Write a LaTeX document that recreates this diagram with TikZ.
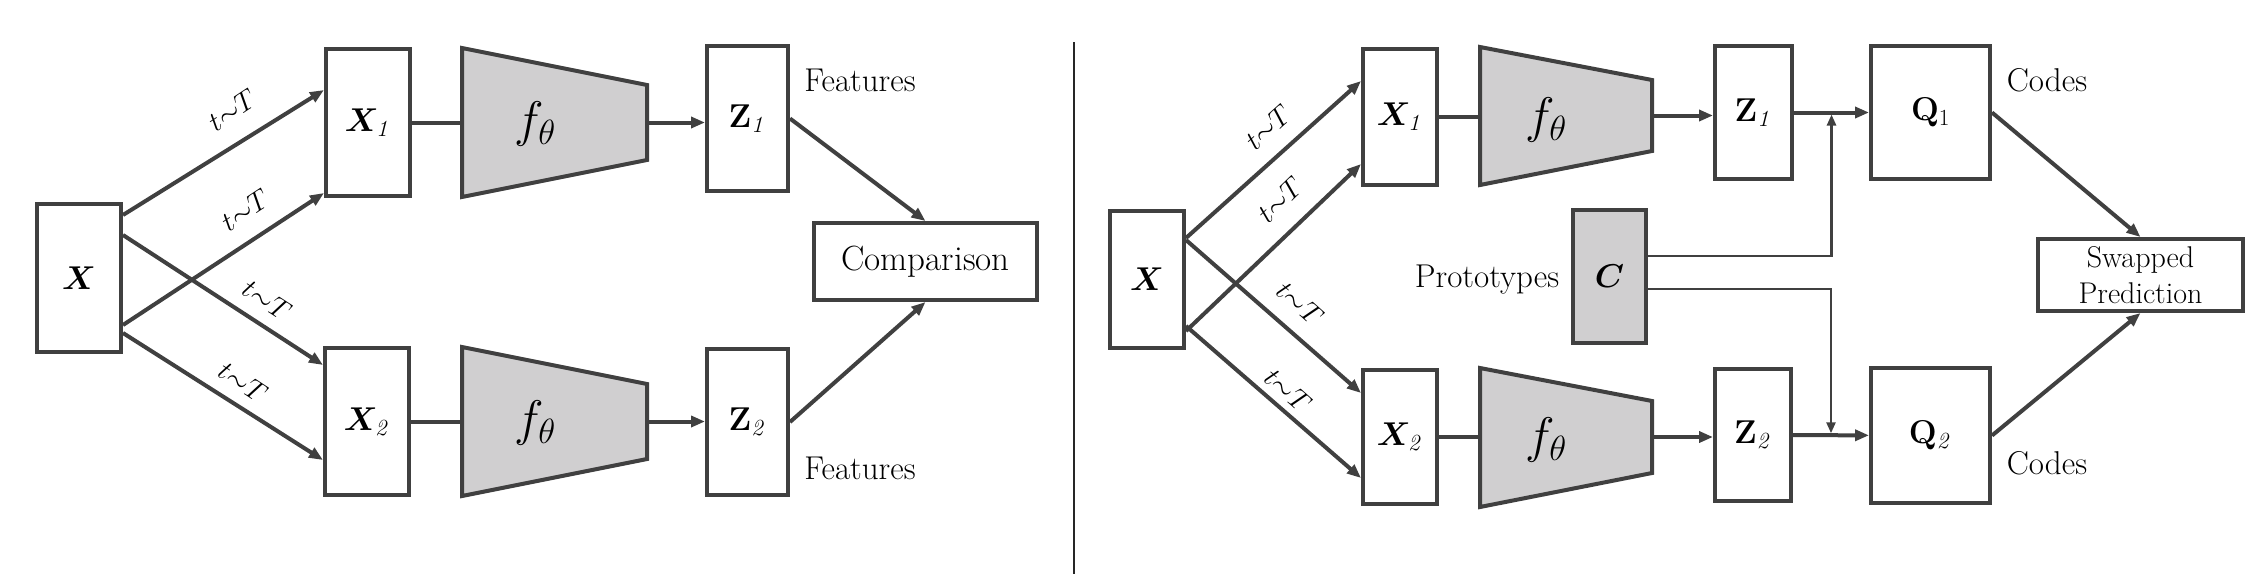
\RequirePackage{fix-cm}
\documentclass[tikz,border=0pt]{standalone}
\usepackage{bm}
\usetikzlibrary{arrows.meta,calc}

\definecolor{linegray}{RGB}{64,64,64}
\definecolor{encgray}{RGB}{208,207,208}

\tikzset{every picture/.style={line width=4pt}}

\begin{document}
\begin{tikzpicture}[x=1pt,y=1pt,yscale=-1,xscale=1,
	box/.style={draw=linegray,line width=4pt,fill=white,inner sep=0pt,font=\fontsize{33}{40}\selectfont},
	enc/.style={draw=linegray,line width=4pt,fill=encgray,line join=miter},
	con/.style={draw=linegray,line width=4pt},
	arr/.style={con,-{Triangle[length=14pt,width=11pt]}},
	carr/.style={draw=linegray,line width=2.5pt,-{Triangle[length=11pt,width=9pt]}},
	lbl/.style={font=\fontsize{33}{40}\selectfont},
	ftxt/.style={font=\fontsize{50}{60}\selectfont},
	tlbl/.style={font=\fontsize{28}{34}\selectfont,inner sep=0pt}]
	\useasboundingbox (0,0) rectangle (2258,574);

	% ---------- left panel
	%Shape: Rectangle
	\draw (79,278) node [box,minimum width=84,minimum height=148] (x0) {$\bm{X}$};
	%Shape: Rectangle
	\draw (368,122.5) node [box,minimum width=84,minimum height=147] (x1) {$\bm{X}_{\mathit{1}}$};
	%Shape: Rectangle
	\draw (367,421.5) node [box,minimum width=84,minimum height=147] (x2) {$\bm{X}_{\mathit{2}}$};
	%Shape: Trapezoid
	\draw [enc] (462,48) -- (647,85) -- (647,160) -- (462,197) -- cycle ;
	\coordinate (f1in) at (462,122.5);
	\coordinate (f1out) at (647,122.5);
	\draw (535,124) node [ftxt] (f1) {$f_\theta$};
	%Shape: Trapezoid
	\draw [enc] (462,347) -- (647,384) -- (647,459) -- (462,496) -- cycle ;
	\coordinate (f2in) at (462,421.5);
	\coordinate (f2out) at (647,421.5);
	\draw (535,423) node [ftxt] (f2) {$f_\theta$};
	%Shape: Rectangle
	\draw (747.5,118.5) node [box,minimum width=81,minimum height=145] (z1) {$\mathbf{Z}_{\mathit{1}}$};
	%Shape: Rectangle
	\draw (747.5,422) node [box,minimum width=81,minimum height=146] (z2) {$\mathbf{Z}_{\mathit{2}}$};
	%Shape: Rectangle
	\draw (925.5,261.5) node [box,minimum width=223,minimum height=77,font=\fontsize{35}{42}\selectfont] (cmp) {Comparison};

	%Straight Lines
	\draw [arr] (x0.east |- 0,215) -- (x1.west |- 0,90);
	\draw [arr] (x0.east |- 0,325) -- (x1.west |- 0,193);
	\draw [arr] (x0.east |- 0,235) -- (x2.west |- 0,365);
	\draw [arr] (x0.east |- 0,333) -- (x2.west |- 0,460);
	\draw [con] (x1) -- (f1in);
	\draw [con] (x2) -- (f2in);
	\draw [arr] (f1out) -- (z1.west |- f1out);
	\draw [arr] (f2out) -- (z2.west |- f2out);
	\draw [arr] (z1.east) -- (cmp.north);
	\draw [arr] (z2.east) -- (cmp.south);

	% Text Node
	\draw (232,110) node [tlbl,rotate=33.5] (t1) {$t{\sim}T$};
	% Text Node
	\draw (245,210) node [tlbl,rotate=33.4] (t2) {$t{\sim}T$};
	% Text Node
	\draw (267,300) node [tlbl,rotate=-33] (t3) {$t{\sim}T$};
	% Text Node
	\draw (243,382) node [tlbl,rotate=-33.5] (t4) {$t{\sim}T$};
	% Text Node
	\draw (860,80) node [lbl] (feat1) {Features};
	% Text Node
	\draw (860,468) node [lbl] (feat2) {Features};

	%Straight Lines
	\draw [line width=2.5pt,black!85] (1074,42) -- (1074,574);

	% ---------- right panel
	%Shape: Rectangle
	\draw (1147,279.5) node [box,minimum width=74,minimum height=137] (y0) {$\bm{X}$};
	%Shape: Rectangle
	\draw (1400,116.5) node [box,minimum width=74,minimum height=136] (y1) {$\bm{X}_{\mathit{1}}$};
	%Shape: Rectangle
	\draw (1400,437) node [box,minimum width=74,minimum height=134] (y2) {$\bm{X}_{\mathit{2}}$};
	%Shape: Trapezoid
	\draw [enc] (1480,47) -- (1652,80) -- (1652,151) -- (1480,185) -- cycle ;
	\coordinate (g1in) at (1480,116.5);
	\coordinate (g1out) at (1652,115.5);
	\draw (1546,120) node [ftxt] (g1) {$f_\theta$};
	%Shape: Trapezoid
	\draw [enc] (1480,368) -- (1652,401) -- (1652,473) -- (1480,507) -- cycle ;
	\coordinate (g2in) at (1480,437);
	\coordinate (g2out) at (1652,437);
	\draw (1546,440) node [ftxt] (g2) {$f_\theta$};
	%Shape: Rectangle
	\draw (1753.5,112.5) node [box,minimum width=77,minimum height=133] (w1) {$\mathbf{Z}_{\mathit{1}}$};
	%Shape: Rectangle
	\draw (1753,435) node [box,minimum width=76,minimum height=132] (w2) {$\mathbf{Z}_{\mathit{2}}$};
	%Shape: Rectangle
	\draw (1930.5,112.5) node [box,minimum width=119,minimum height=133] (q1) {$\mathbf{Q}_{1}$};
	%Shape: Rectangle
	\draw (1930.5,435.5) node [box,minimum width=119,minimum height=135] (q2) {$\mathbf{Q}_{\mathit{2}}$};
	%Shape: Rectangle
	\draw (1609.5,276.5) node [box,fill=encgray,minimum width=73,minimum height=133] (cc) {$\bm{C}$};
	%Shape: Rectangle
	\draw (2140.5,275) node [box,minimum width=205,minimum height=72,align=center,font=\fontsize{30}{36}\selectfont] (sw) {Swapped\\Prediction};

	%Straight Lines
	\draw [arr] (y0.east |- 0,238) -- (y1.west |- 0,81);
	\draw [arr] (y0.east |- 0,331) -- (y1.west |- 0,164);
	\draw [arr] (y0.east |- 0,240) -- (y2.west |- 0,393);
	\draw [arr] (y0.east |- 0,326) -- (y2.west |- 0,478);
	\draw [con] (y1) -- (g1in);
	\draw [con] (y2) -- (g2in);
	\draw [arr] (g1out) -- (w1.west |- g1out);
	\draw [arr] (g2out) -- (w2.west |- g2out);
	\draw [arr] (w1) -- (q1);
	\draw [arr] (w2) -- (q2);
	\draw [carr] (cc.east |- 0,256) -| ($($(w1.east)!.5!(q1.west)$)+(0,2)$);
	\draw [carr] (cc.east |- 0,289) -| ($($(w2.east)!.5!(q2.west)$)+(0,-2)$);
	\draw [arr] (q1.east) -- (sw.north);
	\draw [arr] (q2.east) -- (sw.south);

	% Text Node
	\draw (1268,127) node [tlbl,rotate=42] (s1) {$t{\sim}T$};
	% Text Node
	\draw (1280,200) node [tlbl,rotate=44] (s2) {$t{\sim}T$};
	% Text Node
	\draw (1300,303) node [tlbl,rotate=-41.7] (s3) {$t{\sim}T$};
	% Text Node
	\draw (1288,390) node [tlbl,rotate=-41.5] (s4) {$t{\sim}T$};
	% Text Node
	\draw (2047,80) node [lbl] (code1) {Codes};
	% Text Node
	\draw (2047,463) node [lbl] (code2) {Codes};
	% Text Node
	\draw (1487,280) node [lbl] (proto) {Prototypes};

\end{tikzpicture}
\end{document}
